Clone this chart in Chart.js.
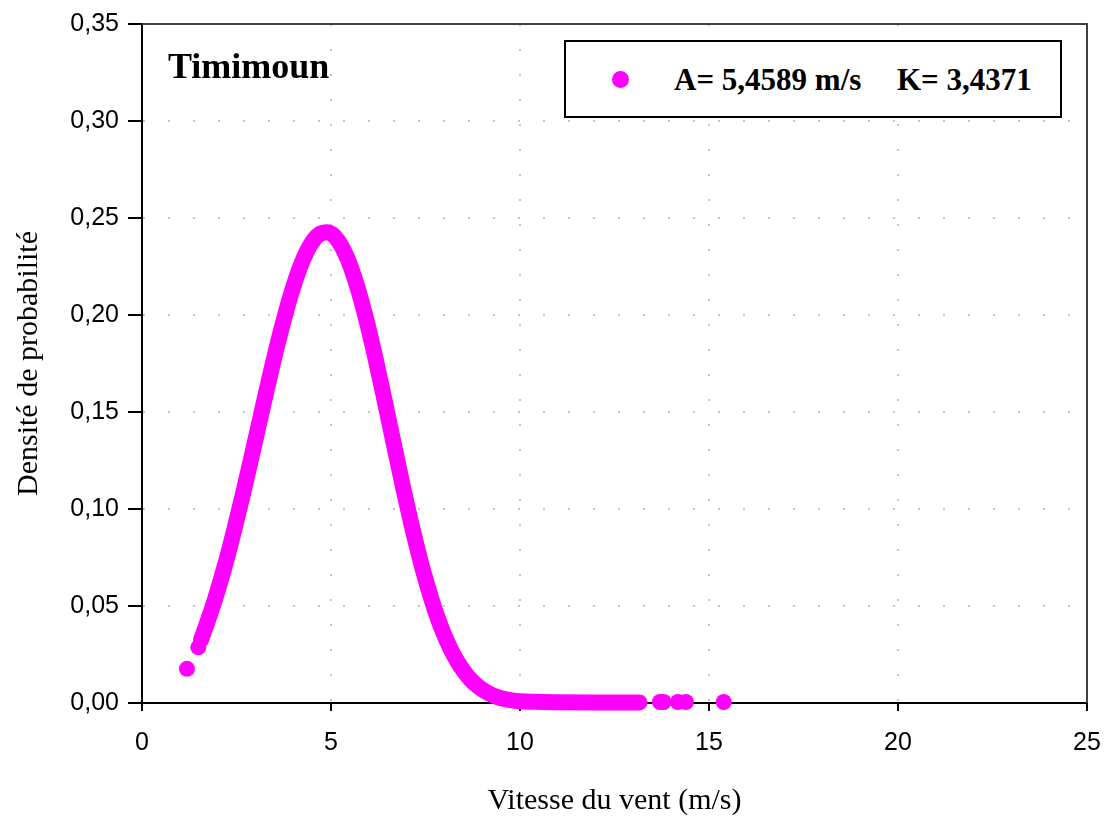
<!DOCTYPE html>
<html>
<head>
<meta charset="utf-8">
<script src="https://cdn.jsdelivr.net/npm/chart.js@4.4.1/dist/chart.umd.min.js"></script>
<style>
  html, body { margin: 0; padding: 0; background: #fff; }
  #wrap { position: relative; width: 1106px; height: 819px; }
  #c { position: absolute; left: 0; top: 0; }
  #title { position: absolute; left: 168px; top: 48px; font: bold 36px 'Liberation Serif', 'Times New Roman', serif; line-height: 36px; color: #000; white-space: nowrap; }
  #legend { position: absolute; left: 564px; top: 40px; width: 498px; height: 78px; box-sizing: border-box; border: 2px solid #000; background: #fff; }
  #legend .dot { position: absolute; left: 46px; top: 29px; width: 17px; height: 17px; border-radius: 50%; background: #ff00ff; }
  #legend .txt { position: absolute; top: 22px; font: bold 31px 'Liberation Serif', 'Times New Roman', serif; line-height: 31px; color: #000; white-space: nowrap; }
</style>
</head>
<body>
<div id="wrap">
  <canvas id="c" width="1106" height="819"></canvas>
  <div id="title">Timimoun</div>
  <div id="legend">
    <span class="dot"></span>
    <span class="txt" style="left:108px">A= 5,4589 m/s</span>
    <span class="txt" style="left:331px">K= 3,4371</span>
  </div>
</div>
<script>
// ---- data ----
const curveX = [1.56, 1.72, 1.92, 2.17, 2.42, 2.67, 2.92, 3.17, 3.42, 3.67, 3.92, 4.17, 4.42, 4.67, 4.92,
                5.17, 5.42, 5.67, 5.92, 6.17, 6.42, 6.67, 6.92, 7.17, 7.42, 7.67, 7.92, 8.17, 8.42, 8.67,
                8.92, 9.17, 9.42, 9.67, 9.92, 10.42, 10.92, 11.92, 13.16];
const curveY = [0.0325, 0.0412, 0.0528, 0.0692, 0.0877, 0.1077, 0.1288, 0.1504, 0.1716, 0.1915, 0.2093, 0.2241, 0.2350, 0.2413, 0.2426,
                0.2388, 0.2298, 0.2162, 0.1987, 0.1782, 0.1558, 0.1327, 0.1100, 0.0887, 0.0694, 0.0527, 0.0387, 0.0276, 0.0190, 0.0126,
                0.0081, 0.0050, 0.0029, 0.0017, 0.0010, 0.0006, 0.0004, 0.0003, 0.0003];
const looseX = [1.19, 1.49, 13.70, 13.80, 14.18, 14.39, 15.39];
const looseY = [0.0176, 0.0287, 0.0005, 0.0005, 0.0005, 0.0005, 0.0005];
const xTickLabels = ['0', '5', '10', '15', '20', '25'];
const yTickLabels = ['0,00', '0,05', '0,10', '0,15', '0,20', '0,25', '0,30', '0,35'];
const seriesLabel = 'A= 5,4589 m/s    K= 3,4371';
const xTitle = 'Vitesse du vent (m/s)';
const yTitle = 'Densité de probabilité';

const MAGENTA = '#ff00ff';
const toPts = (xs, ys) => xs.map((x, i) => ({ x: x, y: ys[i] }));

const frame = {
  id: 'frame',
  beforeDatasetsDraw(chart) {
    const { ctx, chartArea: a } = chart;
    ctx.save();
    ctx.strokeStyle = '#404040';
    ctx.lineWidth = 2;
    ctx.beginPath();
    ctx.moveTo(a.left, a.top);
    ctx.lineTo(a.right, a.top);
    ctx.lineTo(a.right, a.bottom);
    ctx.stroke();
    ctx.restore();
  }
};

const gridCommon = {
  color: '#c4c4c4',
  lineWidth: 2,
  tickColor: '#000',
  tickWidth: 2,
  tickBorderDash: [],
};

new Chart(document.getElementById('c'), {
  type: 'scatter',
  data: {
    datasets: [
      {
        label: seriesLabel,
        data: toPts(curveX, curveY),
        showLine: true,
        borderColor: MAGENTA,
        backgroundColor: MAGENTA,
        borderWidth: 16,
        borderCapStyle: 'round',
        borderJoinStyle: 'round',
        cubicInterpolationMode: 'monotone',
        pointRadius: 0,
        pointHoverRadius: 0,
        clip: false
      },
      {
        label: seriesLabel,
        data: toPts(looseX, looseY),
        showLine: false,
        backgroundColor: MAGENTA,
        borderColor: MAGENTA,
        borderWidth: 0,
        pointRadius: 8,
        pointHoverRadius: 8,
        clip: false
      }
    ]
  },
  options: {
    responsive: false,
    animation: false,
    devicePixelRatio: 1,
    layout: { padding: { top: 24, right: 19, left: 0, bottom: 0 } },
    plugins: { legend: { display: false }, tooltip: { enabled: false } },
    scales: {
      x: {
        type: 'linear',
        min: 0, max: 25,
        afterFit(s) { s.height = 116; s.paddingLeft = 0; s.paddingRight = 0; },
        ticks: {
          stepSize: 5,
          color: '#000',
          padding: 17,
          maxRotation: 0,
          font: { family: "'Liberation Sans', Arial, sans-serif", size: 25 },
          callback: (v, i) => xTickLabels[i]
        },
        grid: Object.assign({}, gridCommon, { tickLength: 8 }),
        border: { display: true, color: '#000', width: 2, dash: [2, 23] },
        title: {
          display: true,
          text: xTitle,
          color: '#000',
          font: { family: "'Liberation Serif', 'Times New Roman', serif", size: 30 },
          padding: { top: 0, bottom: 0 }
        }
      },
      y: {
        type: 'linear',
        min: 0, max: 0.35,
        afterFit(s) { s.width = 142; },
        ticks: {
          stepSize: 0.05,
          color: '#000',
          padding: 9,
          font: { family: "'Liberation Sans', Arial, sans-serif", size: 25 },
          callback: (v, i) => yTickLabels[i]
        },
        grid: Object.assign({}, gridCommon, { tickLength: 14 }),
        border: { display: true, color: '#000', width: 2, dash: [2, 23] },
        title: {
          display: true,
          text: yTitle,
          color: '#000',
          font: { family: "'Liberation Serif', 'Times New Roman', serif", size: 30 },
          padding: { top: 11, bottom: 0 }
        }
      }
    }
  },
  plugins: [frame]
});
</script>
</body>
</html>
